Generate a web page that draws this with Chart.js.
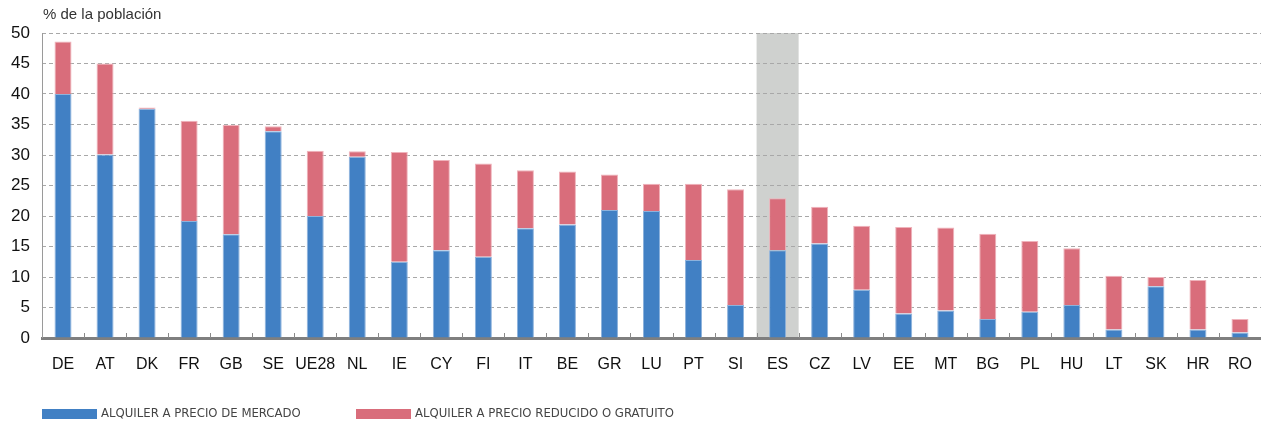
<!DOCTYPE html>
<html lang="es">
<head>
    <meta charset="UTF-8">
    <title>Alquiler por país</title>
    <script src="https://cdn.jsdelivr.net/npm/chart.js"></script>
    <style>
        body { margin: 0; background: #fff; }
        #wrap { width: 1261px; height: 424px; }
    </style>
</head>
<body>
<div id="wrap">
    <canvas id="myChart" width="1261" height="424"></canvas>
</div>
<script>
    const labels = ['DE', 'AT', 'DK', 'FR', 'GB', 'SE', 'UE28', 'NL', 'IE', 'CY', 'FI', 'IT', 'BE', 'GR', 'LU',
        'PT', 'SI', 'ES', 'CZ', 'LV', 'EE', 'MT', 'BG', 'PL', 'HU', 'LT', 'SK', 'HR', 'RO'];
    // alquiler a precio de mercado
    const mercado = [40.0, 30.1, 37.6, 19.2, 17.0, 33.9, 20.0, 29.7, 12.5, 14.4, 13.3, 18.0, 18.6, 21.0, 20.8,
        12.8, 5.4, 14.4, 15.5, 7.9, 4.0, 4.5, 3.1, 4.3, 5.4, 1.4, 8.5, 1.4, 0.9];
    // alquiler a precio reducido o gratuito
    const reducido = [8.6, 14.9, 0.2, 16.4, 17.9, 0.8, 10.7, 0.9, 18.0, 14.8, 15.3, 9.5, 8.7, 5.8, 4.5,
        12.5, 19.0, 8.5, 6.0, 10.5, 14.2, 13.6, 14.0, 11.6, 9.3, 8.8, 1.5, 8.1, 2.2];
    const yTicks = [0, 5, 10, 15, 20, 25, 30, 35, 40, 45, 50];
    const destacado = 'ES';

    const FONT = '"Liberation Sans", Arial, sans-serif';

    // banda gris detras de ES
    const bandPlugin = {
        id: 'band',
        beforeDraw(chart) {
            const x = chart.scales.x;
            const idx = labels.indexOf(destacado);
            const w = x.getPixelForValue(1) - x.getPixelForValue(0);
            const cx = x.getPixelForValue(idx);
            const ctx = chart.ctx;
            ctx.save();
            ctx.fillStyle = '#cfd1cf';
            ctx.fillRect(cx - w / 2, chart.chartArea.top, w, chart.chartArea.bottom - chart.chartArea.top);
            ctx.restore();
        }
    };

    // titulo, eje vertical, marcas del eje x y leyenda
    const extrasPlugin = {
        id: 'extras',
        afterDraw(chart) {
            const ctx = chart.ctx;
            const area = chart.chartArea;
            const x = chart.scales.x;
            const w = x.getPixelForValue(1) - x.getPixelForValue(0);
            ctx.save();

            ctx.strokeStyle = '#9a9a9a';
            ctx.lineWidth = 1;
            ctx.beginPath();
            ctx.moveTo(area.left + 0.5, area.top);
            ctx.lineTo(area.left + 0.5, area.bottom);
            ctx.stroke();

            ctx.strokeStyle = '#8a8a8a';
            for (let i = 1; i < labels.length; i++) {
                const px = Math.round(x.getPixelForValue(i) - w / 2) + 0.5;
                ctx.beginPath();
                ctx.moveTo(px, area.bottom - 5);
                ctx.lineTo(px, area.bottom);
                ctx.stroke();
            }

            ctx.fillStyle = '#333';
            ctx.font = '15px ' + FONT;
            ctx.textBaseline = 'middle';
            ctx.textAlign = 'left';
            ctx.fillText('% de la población', area.left + 1, 15);

            ctx.font = '13px "Liberation Sans Narrow", "DejaVu Sans Condensed", ' + FONT;
            const items = [
                {x: 42, tx: 101, ds: chart.data.datasets[0]},
                {x: 356, tx: 415, ds: chart.data.datasets[1]}
            ];
            items.forEach(it => {
                ctx.fillStyle = it.ds.backgroundColor;
                ctx.fillRect(it.x, 409, 55, 10);
                ctx.fillStyle = '#444';
                ctx.fillText(it.ds.label, it.tx, 414);
            });
            ctx.restore();
        }
    };

    new Chart(document.getElementById('myChart'), {
        type: 'bar',
        data: {
            labels: labels,
            datasets: [{
                label: 'ALQUILER A PRECIO DE MERCADO',
                data: mercado,
                backgroundColor: '#4180c4',
                borderColor: '#8db2dc',
                borderWidth: {top: 1, left: 1, right: 1, bottom: 0},
                barPercentage: 0.405,
                categoryPercentage: 1
            }, {
                label: 'ALQUILER A PRECIO REDUCIDO O GRATUITO',
                data: reducido,
                backgroundColor: '#d96d7b',
                borderColor: '#efb3bb',
                borderWidth: {top: 1, left: 1, right: 1, bottom: 0},
                barPercentage: 0.405,
                categoryPercentage: 1
            }]
        },
        options: {
            responsive: false,
            animation: false,
            layout: {padding: {top: 33, left: 0, right: 0, bottom: 0}},
            plugins: {
                legend: {display: false},
                tooltip: {enabled: false}
            },
            scales: {
                x: {
                    stacked: true,
                    afterFit: s => { s.height = 86; },
                    grid: {display: false},
                    border: {display: true, color: '#7f7f7f', width: 3},
                    ticks: {
                        color: '#111',
                        padding: 9,
                        maxRotation: 0,
                        autoSkip: false,
                        font: {family: FONT, size: 16}
                    }
                },
                y: {
                    stacked: true,
                    min: 0,
                    max: 50,
                    afterFit: s => { s.width = 42; },
                    afterBuildTicks: s => { s.ticks = yTicks.map(v => ({value: v})); },
                    grid: {
                        color: '#a8a8a8',
                        lineWidth: 1,
                        drawTicks: false
                    },
                    border: {display: false, dash: [4, 3]},
                    ticks: {
                        color: '#111',
                        padding: 12,
                        font: {family: FONT, size: 17}
                    }
                }
            }
        },
        plugins: [bandPlugin, extrasPlugin]
    });
</script>
</body>
</html>
